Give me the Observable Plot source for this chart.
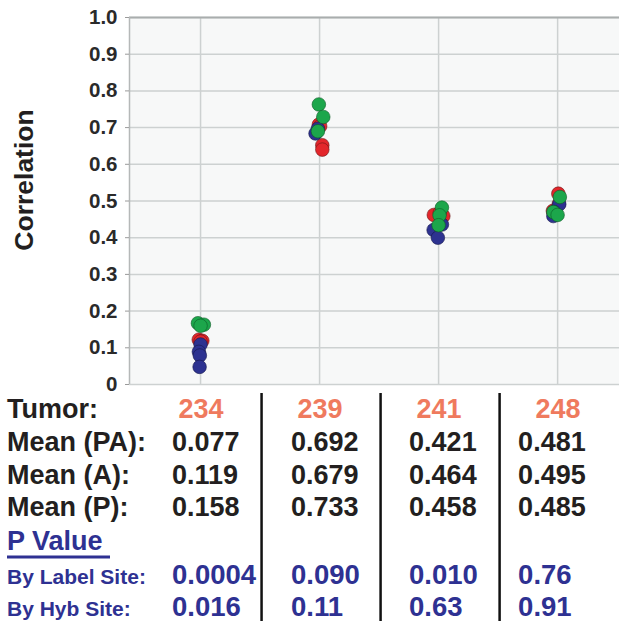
<!DOCTYPE html>
<html>
<head>
<meta charset="utf-8">
<script src="https://cdn.jsdelivr.net/npm/d3@7"></script>
<script src="https://cdn.jsdelivr.net/npm/@observablehq/plot@0.6"></script>
<style>
  html, body { margin: 0; padding: 0; background: #fff; }
  #wrap { position: relative; width: 619px; height: 621px; overflow: hidden; }
  #overlay { position: absolute; left: 0; top: 0; pointer-events: none; }
</style>
</head>
<body>
<div id="wrap"></div>
<script>
// ---- data ----
const tumors = ["234", "239", "241", "248"];
const meanPA = ["0.077", "0.692", "0.421", "0.481"];
const meanA = ["0.119", "0.679", "0.464", "0.495"];
const meanP = ["0.158", "0.733", "0.458", "0.485"];
const pLabelSite = ["0.0004", "0.090", "0.010", "0.76"];
const pHybSite = ["0.016", "0.11", "0.63", "0.91"];
const yTicks = [0, 0.1, 0.2, 0.3, 0.4, 0.5, 0.6, 0.7, 0.8, 0.9, 1.0];

// replicate correlations per tumor and small horizontal jitter (category units)
const redVals = [[0.122, 0.119, 0.117], [0.708, 0.704, 0.652, 0.640], [0.462, 0.459, 0.468], [0.520, 0.473, 0.492]];
const redJit = [[-0.015, 0.015, 0.0], [-0.006, 0.005, 0.023, 0.023], [-0.04, 0.04, 0.01], [0.006, -0.04, 0.01]];
const blueVals = [[0.109, 0.089, 0.079, 0.048], [0.697, 0.684], [0.436, 0.421, 0.400], [0.491, 0.459, 0.470]];
const blueJit = [[0.0, -0.014, -0.006, -0.008], [-0.014, -0.034], [0.028, -0.042, -0.006], [0.014, -0.036, -0.03]];
const greenVals = [[0.167, 0.163, 0.160], [0.763, 0.729, 0.690], [0.482, 0.461, 0.434], [0.511, 0.470, 0.462]];
const greenJit = [[-0.022, 0.028, 0.0], [-0.006, 0.031, -0.014], [0.028, 0.008, 0.0], [0.019, -0.036, 0.0]];

function flat(vals, jit) {
  const out = [];
  vals.forEach((arr, t) => arr.forEach((v, k) => out.push({x: t + 1 + jit[t][k], v})));
  return out;
}
const red = flat(redVals, redJit);
const blue = flat(blueVals, blueJit);
const green = flat(greenVals, greenJit);

const FONT = "'Liberation Sans', Arial, Helvetica, sans-serif";

const plot = Plot.plot({
  width: 619,
  height: 395,
  marginLeft: 129,
  marginRight: 0,
  marginTop: 17,
  marginBottom: 11,
  x: {domain: [0.403, 4.52], axis: null},
  y: {domain: [0, 1], axis: null},
  style: {fontFamily: FONT, background: "transparent", overflow: "visible"},
  marks: [
    Plot.frame({fill: "#f7f8f8", stroke: null}),
    Plot.gridY(yTicks, {stroke: "#cdd1d1", strokeOpacity: 1, strokeWidth: 1.5}),
    Plot.gridX([1, 2, 3, 4], {stroke: "#cdd1d1", strokeOpacity: 1, strokeWidth: 1.5}),
    Plot.ruleY([1], {stroke: "#a9adad", strokeWidth: 2}),
    Plot.ruleX([0.403], {stroke: "#b5b8b8", strokeWidth: 1.5}),
    Plot.axisY(yTicks, {
      tickSize: 4, tickPadding: 8, fontSize: 20.5, fontWeight: "bold", fill: "#2a2a2a",
      stroke: "#9a9a9a", label: null,
      tickFormat: d => d === 0 ? "0" : d.toFixed(1)
    }),
    Plot.dot(red, {x: "x", y: "v", r: 6.8, fill: "#e3262b", stroke: "#6a1515", strokeWidth: 0.6}),
    Plot.dot(blue, {x: "x", y: "v", r: 6.8, fill: "#2d3290", stroke: "#15184a", strokeWidth: 0.6}),
    Plot.dot(green, {x: "x", y: "v", r: 6.8, fill: "#1ca64b", stroke: "#0d5a26", strokeWidth: 0.6})
  ]
});

const wrap = document.getElementById("wrap");
wrap.appendChild(plot);

const xs = plot.scale("x");
const X = v => xs.apply(v);

// ---- overlay: y-axis title and table below the chart ----
const svg = d3.select(wrap).append("svg")
  .attr("id", "overlay")
  .attr("width", 619).attr("height", 621)
  .style("font-family", FONT)
  .style("font-weight", "bold");

svg.append("text")
  .attr("transform", "translate(33,180) rotate(-90)")
  .attr("text-anchor", "middle")
  .attr("font-size", 26.5)
  .attr("fill", "#231f20")
  .text("Correlation");

const BLACK = "#231f20", SALMON = "#ef7a5e", BLUE = "#2e3192";

// column dividers
[1.5, 2.5, 3.5].forEach(m => {
  svg.append("line")
    .attr("x1", X(m) + 2).attr("x2", X(m) + 2)
    .attr("y1", 393).attr("y2", 621)
    .attr("stroke", "#111").attr("stroke-width", 2.5);
});

const valueLeftOffsets = [28, 28, 29, 39];

const rows = [
  {label: "Tumor:", vals: tumors, y: 418, size: 27, lcolor: BLACK, vcolor: SALMON, center: true},
  {label: "Mean (PA):", vals: meanPA, y: 451, size: 27, lcolor: BLACK, vcolor: BLACK},
  {label: "Mean (A):", vals: meanA, y: 483.5, size: 27, lcolor: BLACK, vcolor: BLACK},
  {label: "Mean (P):", vals: meanP, y: 516, size: 27, lcolor: BLACK, vcolor: BLACK},
  {label: "P Value", vals: null, y: 550, size: 27, lcolor: BLUE},
  {label: "By Label Site:", vals: pLabelSite, y: 583.5, size: 21, vsize: 27.5, lcolor: BLUE, vcolor: BLUE},
  {label: "By Hyb Site:", vals: pHybSite, y: 616, size: 21, vsize: 27.5, lcolor: BLUE, vcolor: BLUE}
];

rows.forEach(r => {
  svg.append("text")
    .attr("x", 7).attr("y", r.y)
    .attr("font-size", r.size)
    .attr("fill", r.lcolor)
    .text(r.label);
  if (r.vals) {
    r.vals.forEach((v, i) => {
      const t = svg.append("text")
        .attr("y", r.y)
        .attr("font-size", r.vsize || r.size)
        .attr("fill", r.vcolor)
        .text(v);
      if (r.center) t.attr("x", X(i + 1) + 1).attr("text-anchor", "middle");
      else t.attr("x", X(i + 1) - valueLeftOffsets[i]);
    });
  }
});

// underline under "P Value"
svg.append("line")
  .attr("x1", 7).attr("x2", 110)
  .attr("y1", 557).attr("y2", 557)
  .attr("stroke", BLUE).attr("stroke-width", 3);
</script>
</body>
</html>
